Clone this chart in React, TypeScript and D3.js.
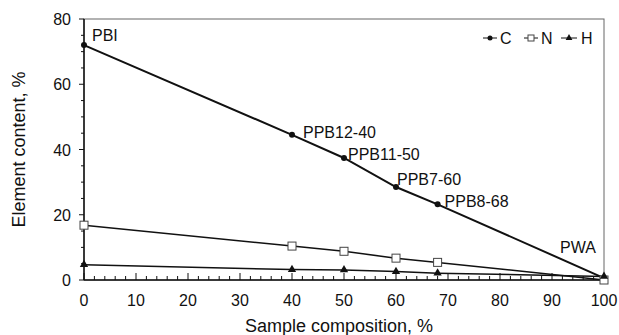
import React from 'react';
import * as d3 from 'd3';

const composition = [0, 40, 50, 60, 68, 100];
const carbon = [72, 44.5, 37.4, 28.5, 23.2, 0.6];
const nitrogen = [16.8, 10.4, 8.8, 6.7, 5.4, 0];
const hydrogen = [4.7, 3.2, 3.1, 2.6, 2.1, 1.1];
const sampleNames = ['PBI', 'PPB12-40', 'PPB11-50', 'PPB7-60', 'PPB8-68', 'PWA'];
const xTicks = [0, 10, 20, 30, 40, 50, 60, 70, 80, 90, 100];
const yTicks = [0, 20, 40, 60, 80];

const W = 619;
const H = 335;
const margin = { top: 19, right: 15, bottom: 55, left: 84 };
const font = '"Liberation Sans", Arial, sans-serif';

export default function App() {
  const w = W - margin.left - margin.right;
  const h = H - margin.top - margin.bottom;
  const x = d3.scaleLinear().domain([0, 100]).range([0, w]);
  const y = d3.scaleLinear().domain([0, 80]).range([h, 0]);

  const pts = (vals: number[]) => composition.map((c, i) => [c, vals[i]] as [number, number]);
  const line = d3.line<[number, number]>().x(d => x(d[0])).y(d => y(d[1]));

  const xMinor = d3.range(0, 101, 2);
  const yMinor = d3.range(0, 81, 5);

  // label offsets relative to the carbon points
  const labelPos: [number, number][] = [
    [8, -4], [11, 3], [4, 2], [1, -2], [7, 3], [-44, -25],
  ];

  const tri = d3.symbol(d3.symbolTriangle, 30)() as string;
  const triSmall = d3.symbol(d3.symbolTriangle, 20)() as string;

  return (
    <svg width={W} height={H} style={{ display: 'block', position: 'absolute', left: 0, top: 0 }}>
      <rect width={W} height={H} fill="#fff" />
      <g transform={`translate(${margin.left},${margin.top})`} fontFamily={font} fill="#111">
        <rect x={0} y={0} width={w} height={h} fill="none" stroke="#666" strokeWidth={1} />
        <line x1={0} x2={0} y1={0} y2={h} stroke="#111" strokeWidth={1.5} />
        <line x1={0} x2={w} y1={h} y2={h} stroke="#111" strokeWidth={1.5} />

        {xMinor.map(t => (
          <line key={'xm' + t} x1={x(t)} x2={x(t)} y1={h} y2={h - (t % 10 === 0 ? 7 : 4)} stroke="#111" />
        ))}
        {yMinor.map(t => (
          <line key={'ym' + t} x1={0} x2={t % 20 === 0 ? -5 : -3} y1={y(t)} y2={y(t)} stroke="#111" />
        ))}
        {xTicks.map(t => (
          <text key={'xt' + t} x={x(t)} y={h + 26} textAnchor="middle" fontSize={16}>{t}</text>
        ))}
        {yTicks.map(t => (
          <text key={'yt' + t} x={-13} y={y(t) + 6} textAnchor="end" fontSize={16}>{t}</text>
        ))}

        <text x={w / 2 - 5} y={h + 52} textAnchor="middle" fontSize={18}>Sample composition, %</text>
        <text transform={`translate(${-59},${h / 2}) rotate(-90)`} textAnchor="middle" fontSize={18}>
          Element content, %
        </text>

        <path d={line(pts(carbon)) || ''} fill="none" stroke="#111" strokeWidth={2} />
        <path d={line(pts(nitrogen)) || ''} fill="none" stroke="#111" strokeWidth={1.5} />
        <path d={line(pts(hydrogen)) || ''} fill="none" stroke="#111" strokeWidth={1.5} />

        {pts(carbon).map((d, i) => (
          <circle key={'c' + i} cx={x(d[0])} cy={y(d[1])} r={3} fill="#111" />
        ))}
        {pts(nitrogen).map((d, i) => (
          <rect key={'n' + i} x={x(d[0]) - 4} y={y(d[1]) - 4} width={8} height={8} fill="#fff" stroke="#444" />
        ))}
        {pts(hydrogen).map((d, i) => (
          <path key={'h' + i} d={tri} transform={`translate(${x(d[0])},${y(d[1])})`} fill="#111" />
        ))}

        {pts(carbon).map((d, i) => (
          <text key={'l' + i} x={x(d[0]) + labelPos[i][0]} y={y(d[1]) + labelPos[i][1]} fontSize={16}>
            {sampleNames[i]}
          </text>
        ))}

        <g transform={`translate(${399},${19})`} fontSize={16}>
          <line x1={0} x2={14} y1={0} y2={0} stroke="#111" />
          <circle cx={7} cy={0} r={2.5} fill="#111" />
          <text x={17} y={6}>C</text>
          <line x1={41} x2={55} y1={0} y2={0} stroke="#111" />
          <rect x={45} y={-3} width={6} height={6} fill="#fff" stroke="#444" />
          <text x={58} y={6}>N</text>
          <line x1={78} x2={94} y1={0} y2={0} stroke="#111" />
          <path d={triSmall} transform="translate(86,0)" fill="#111" />
          <text x={98} y={6}>H</text>
        </g>
      </g>
    </svg>
  );
}
